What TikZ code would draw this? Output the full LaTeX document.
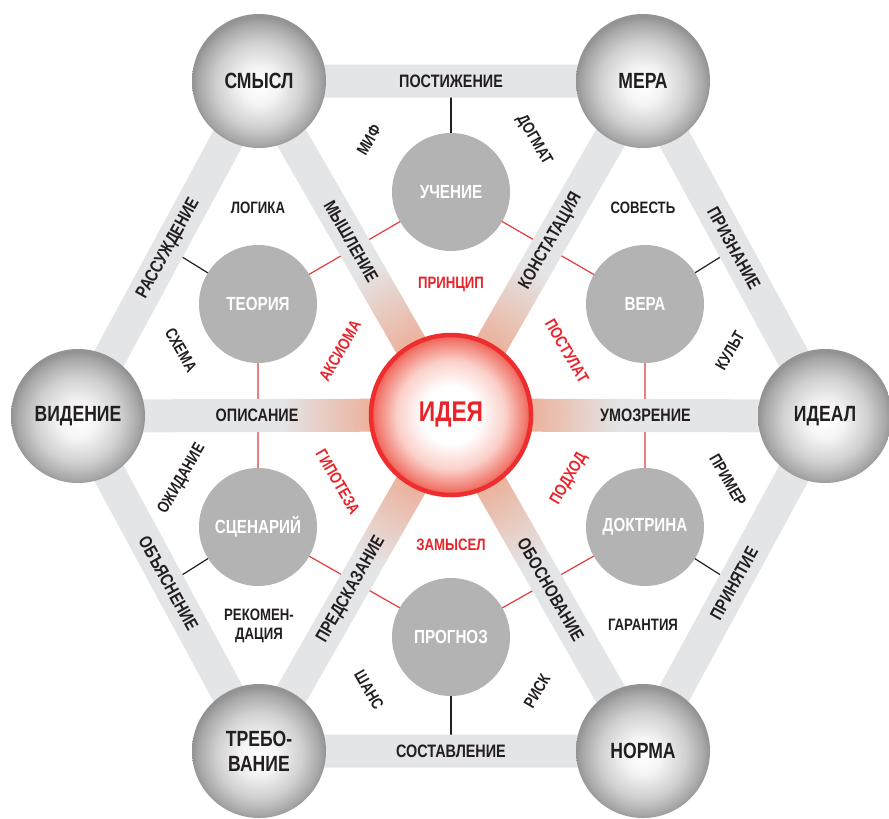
\documentclass[tikz,border=0pt]{standalone}
\usepackage{fontspec}
\setmainfont{Liberation Sans}[FakeStretch=0.8]
\usetikzlibrary{calc}
\definecolor{bandgray}{HTML}{E4E5E7}
\definecolor{salm}{HTML}{EBB39E}
\definecolor{innergray}{HTML}{B3B3B3}
\definecolor{redtxt}{HTML}{E8242A}
\definecolor{redline}{HTML}{E63B3B}
\definecolor{ideared}{HTML}{EE2E2E}
\definecolor{ink}{HTML}{231F20}
\definecolor{ideaA}{HTML}{FAD0C9}
\definecolor{ideaB}{HTML}{F27D72}
\definecolor{ideaC}{HTML}{EE5A50}
\definecolor{ballA}{HTML}{F4F4F4}
\definecolor{ballB}{HTML}{D0D0D0}
\definecolor{ballC}{HTML}{A8A8A8}
\definecolor{ballD}{HTML}{939393}
\pgfdeclareradialshading{spokeshade}{\pgfpoint{0bp}{0bp}}{color(0bp)=(salm); color(5.2bp)=(salm); color(10.6bp)=(bandgray); color(50bp)=(bandgray)}
\pgfdeclareradialshading{ballshade}{\pgfpoint{0bp}{-2bp}}{color(0bp)=(white); color(7bp)=(ballA); color(16bp)=(ballB); color(22.5bp)=(ballC); color(25bp)=(ballD); color(50bp)=(ballD)}
\pgfdeclareradialshading{ideashade}{\pgfpoint{0bp}{0bp}}{color(0bp)=(white); color(9bp)=(white); color(17bp)=(ideaA); color(23bp)=(ideaB); color(25bp)=(ideaC); color(50bp)=(ideaC)}
\pgfdeclarelayer{lines}
\pgfdeclarelayer{bands}
\pgfsetlayers{lines,bands,main}
\begin{document}
\begin{tikzpicture}[x=1pt,y=-1pt,
  outer/.style={circle, minimum size=134pt, inner sep=0pt, shade, shading=ballshade, text=ink, font=\bfseries\fontsize{22}{25}\selectfont, align=center},
  inner/.style={circle, minimum size=118pt, inner sep=0pt, fill=innergray, text=white, font=\bfseries\fontsize{19}{22}\selectfont},
  idea/.style={circle, minimum size=160pt, inner sep=0pt, shade, shading=ideashade, draw=ideared, line width=4.5pt, text=redtxt, font=\bfseries\fontsize{28.5}{32}\selectfont},
  bandlbl/.style={text=ink, font=\bfseries\fontsize{18}{21}\selectfont, inner sep=0pt},
  smalllbl/.style={text=ink, font=\bfseries\fontsize{16.5}{19}\selectfont, inner sep=0pt, align=center},
  redlbl/.style={text=redtxt, font=\bfseries\fontsize{16.5}{19}\selectfont, inner sep=0pt},
  band/.style={draw=bandgray, line width=33pt},
  redcon/.style={draw=redline, line width=1.2pt},
  blkcon/.style={draw=ink, line width=1.2pt}
]
\useasboundingbox (0,0) rectangle (889,819);
% outer circles
\node[outer] (smysl) at (259,81) {СМЫСЛ};
\node[outer] (mera) at (643,81) {МЕРА};
\node[outer] (videnie) at (78,416) {ВИДЕНИЕ};
\node[outer] (ideal) at (825,416) {ИДЕАЛ};
\node[outer] (treb) at (259,751) {ТРЕБО-\\ВАНИЕ};
\node[outer] (norma) at (643,751) {НОРМА};
% inner circles
\node[inner] (uchenie) at (451,192) {УЧЕНИЕ};
\node[inner] (teoriya) at (258,304) {ТЕОРИЯ};
\node[inner] (vera) at (645,304) {ВЕРА};
\node[inner] (scenariy) at (258,527) {СЦЕНАРИЙ};
\node[inner] (doktrina) at (645,527) {ДОКТРИНА};
\node[inner] (prognoz) at (451,637) {ПРОГНОЗ};
% center
\node[idea] (idea) at (451,415) {ИДЕЯ};

\begin{pgfonlayer}{bands}
  \draw[band] (smysl.center) -- (mera.center) -- (ideal.center) -- (norma.center) -- (treb.center) -- (videnie.center) -- cycle;
  \begin{scope}
    \clip \foreach \v in {smysl,mera,ideal,norma,treb,videnie} {
      ($(idea.center)!16.5pt!90:(\v.center)$) -- ($(\v.center)!16.5pt!-90:(idea.center)$) -- ($(\v.center)!16.5pt!90:(idea.center)$) -- ($(idea.center)!16.5pt!-90:(\v.center)$) -- cycle };
    \shade[shading=spokeshade] (idea.center) circle (400pt);
  \end{scope}
\end{pgfonlayer}

\begin{pgfonlayer}{lines}
  \draw[redcon] (uchenie.center) -- (vera.center) -- (doktrina.center) -- (prognoz.center) -- (scenariy.center) -- (teoriya.center) -- cycle;
  \draw[blkcon] (uchenie.center) -- ($(smysl.center)!0.5!(mera.center)$);
  \draw[blkcon] (vera.center) -- ($(mera.center)!0.5!(ideal.center)$);
  \draw[blkcon] (doktrina.center) -- ($(ideal.center)!0.5!(norma.center)$);
  \draw[blkcon] (prognoz.center) -- ($(norma.center)!0.5!(treb.center)$);
  \draw[blkcon] (scenariy.center) -- ($(treb.center)!0.5!(videnie.center)$);
  \draw[blkcon] (teoriya.center) -- ($(videnie.center)!0.5!(smysl.center)$);
\end{pgfonlayer}

% outer band labels
\node[bandlbl] (b1) at ($(smysl)!0.5!(mera)$) {ПОСТИЖЕНИЕ};
\node[bandlbl, rotate=-61] (b2) at ($(mera)!0.5!(ideal)$) {ПРИЗНАНИЕ};
\node[bandlbl, rotate=61] (b3) at ($(ideal)!0.5!(norma)$) {ПРИНЯТИЕ};
\node[bandlbl] (b4) at ($(treb)!0.5!(norma)$) {СОСТАВЛЕНИЕ};
\node[bandlbl, rotate=-61] (b5) at ($(videnie)!0.5!(treb)$) {ОБЪЯСНЕНИЕ};
\node[bandlbl, rotate=61] (b6) at ($(videnie)!0.5!(smysl)$) {РАССУЖДЕНИЕ};
% spoke labels
\node[bandlbl, rotate=-60] (s1) at ($(idea.center)!0.52!(smysl.center)$) {МЫШЛЕНИЕ};
\node[bandlbl, rotate=60] (s2) at ($(idea.center)!0.52!(mera.center)$) {КОНСТАТАЦИЯ};
\node[bandlbl] (s3) at ($(idea.center)!0.52!(ideal.center)$) {УМОЗРЕНИЕ};
\node[bandlbl, rotate=-60] (s4) at ($(idea.center)!0.52!(norma.center)$) {ОБОСНОВАНИЕ};
\node[bandlbl, rotate=60] (s5) at ($(idea.center)!0.52!(treb.center)$) {ПРЕДСКАЗАНИЕ};
\node[bandlbl] (s6) at ($(idea.center)!0.52!(videnie.center)$) {ОПИСАНИЕ};
% red labels
\node[redlbl] (r1) at (451,284) {ПРИНЦИП};
\node[redlbl, rotate=-60] (r2) at (567,351) {ПОСТУЛАТ};
\node[redlbl, rotate=60] (r3) at (569,479) {ПОДХОД};
\node[redlbl] (r4) at (451,545) {ЗАМЫСЕЛ};
\node[redlbl, rotate=-60] (r5) at (338,482) {ГИПОТЕЗА};
\node[redlbl, rotate=60] (r6) at (340,351) {АКСИОМА};
% black small labels
\node[smalllbl, rotate=60] (k1) at (369,140) {МИФ};
\node[smalllbl, rotate=-60] (k2) at (534,140) {ДОГМАТ};
\node[smalllbl] (k3) at (258,208) {ЛОГИКА};
\node[smalllbl] (k4) at (643,208) {СОВЕСТЬ};
\node[smalllbl, rotate=-60] (k5) at (181,350) {СХЕМА};
\node[smalllbl, rotate=60] (k6) at (730,351) {КУЛЬТ};
\node[smalllbl, rotate=60] (k7) at (182,479) {ОЖИДАНИЕ};
\node[smalllbl, rotate=-60] (k8) at (728,480) {ПРИМЕР};
\node[smalllbl] (k9) at (259,626) {РЕКОМЕН-\\ДАЦИЯ};
\node[smalllbl] (k10) at (643,625) {ГАРАНТИЯ};
\node[smalllbl, rotate=-60] (k11) at (369,690) {ШАНС};
\node[smalllbl, rotate=60] (k12) at (537,691) {РИСК};
\end{tikzpicture}
\end{document}
